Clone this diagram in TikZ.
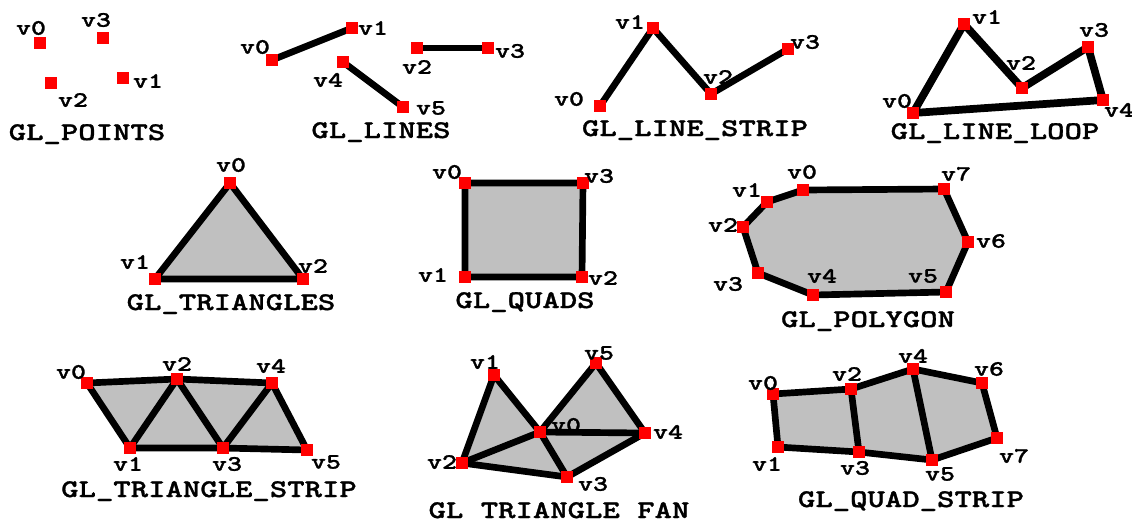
\documentclass[tikz,border=0pt]{standalone}
\usepackage{fontspec}
\newfontfamily\pixfont[FakeStretch=1.3,FakeBold=1.2]{lmmonolt10-bold.otf}
\usetikzlibrary{positioning}
\definecolor{vxred}{HTML}{FF0000}
\definecolor{facegray}{HTML}{C0C0C0}
\tikzset{
  vtx/.style={rectangle,fill=vxred,inner sep=0pt,minimum size=6.3pt},
  vlbl/.style={font=\pixfont\fontsize{12.5}{14}\selectfont,inner sep=0pt},
  captxt/.style={font=\pixfont\fontsize{14.5}{16}\selectfont,inner sep=0pt,anchor=base},
  wire/.style={line width=3.8pt,line join=round},
  face/.style={wire,fill=facegray,draw=black}
}

\begin{document}
\begin{tikzpicture}[x=0.02cm,y=-0.02cm]
  \useasboundingbox[fill=white] (0,0) rectangle (1132,522);

  % GL_POINTS
  \coordinate (pt0) at (40,43);   \coordinate (pt1) at (123,78);
  \coordinate (pt2) at (51,83);   \coordinate (pt3) at (103,38);

  % GL_LINES
  \coordinate (ln0) at (272,60);  \coordinate (ln1) at (352,28);
  \coordinate (ln2) at (417,48);  \coordinate (ln3) at (488,48);
  \coordinate (ln4) at (343,62);  \coordinate (ln5) at (403,107);
  \foreach \a/\b in {0/1,2/3,4/5} \draw[wire] (ln\a) -- (ln\b);

  % GL_LINE_STRIP
  \coordinate (ls0) at (600,106); \coordinate (ls1) at (653,28);
  \coordinate (ls2) at (711,94);  \coordinate (ls3) at (788,49);
  \draw[wire] (ls0) -- (ls1) -- (ls2) -- (ls3);

  % GL_LINE_LOOP
  \coordinate (ll0) at (913,113); \coordinate (ll1) at (964,24);
  \coordinate (ll2) at (1022,88); \coordinate (ll3) at (1088,47);
  \coordinate (ll4) at (1103,100);
  \draw[wire,line width=4.4pt] (ll0) -- (ll1) -- (ll2) -- (ll3) -- (ll4) -- cycle;

  % GL_TRIANGLES
  \coordinate (tr0) at (230,183); \coordinate (tr1) at (155,279);
  \coordinate (tr2) at (303,279);
  \draw[face] (tr0) -- (tr1) -- (tr2) -- cycle;

  % GL_QUADS
  \coordinate (qd0) at (465,183); \coordinate (qd1) at (465,277);
  \coordinate (qd2) at (582,277); \coordinate (qd3) at (583,183);
  \draw[face] (qd0) -- (qd1) -- (qd2) -- (qd3) -- cycle;

  % GL_POLYGON
  \coordinate (pg0) at (803,190); \coordinate (pg1) at (767,202);
  \coordinate (pg2) at (743,227); \coordinate (pg3) at (758,273);
  \coordinate (pg4) at (813,295); \coordinate (pg5) at (946,292);
  \coordinate (pg6) at (968,242); \coordinate (pg7) at (944,189);
  \draw[face] (pg0) -- (pg1) -- (pg2) -- (pg3) -- (pg4) -- (pg5) -- (pg6) -- (pg7) -- cycle;

  % GL_TRIANGLE_STRIP
  \coordinate (ts0) at (87,383);  \coordinate (ts1) at (130,448);
  \coordinate (ts2) at (177,379); \coordinate (ts3) at (223,448);
  \coordinate (ts4) at (272,383); \coordinate (ts5) at (307,450);
  \fill[facegray] (ts0) -- (ts2) -- (ts4) -- (ts5) -- (ts3) -- (ts1) -- cycle;
  \draw[wire] (ts0) -- (ts1) -- (ts2) -- (ts3) -- (ts4) -- (ts5);
  \draw[wire] (ts0) -- (ts2) -- (ts4);
  \draw[wire] (ts1) -- (ts3) -- (ts5);

  % GL_TRIANGLE_FAN
  \coordinate (tf0) at (540,432); \coordinate (tf1) at (494,375);
  \coordinate (tf2) at (462,463); \coordinate (tf3) at (567,477);
  \coordinate (tf4) at (645,433); \coordinate (tf5) at (596,363);
  \fill[facegray] (tf0) -- (tf1) -- (tf2) -- (tf3) -- (tf4) -- (tf5) -- cycle;
  \draw[wire] (tf1) -- (tf2) -- (tf3) -- (tf4) -- (tf5);
  \foreach \k in {1,...,5} \draw[wire] (tf0) -- (tf\k);

  % GL_QUAD_STRIP
  \coordinate (qs0) at (773,394); \coordinate (qs1) at (778,447);
  \coordinate (qs2) at (851,389); \coordinate (qs3) at (859,452);
  \coordinate (qs4) at (913,369); \coordinate (qs5) at (932,460);
  \coordinate (qs6) at (982,383); \coordinate (qs7) at (997,438);
  \draw[face] (qs0) -- (qs2) -- (qs4) -- (qs6) -- (qs7) -- (qs5) -- (qs3) -- (qs1) -- cycle;
  \foreach \a/\b in {2/3,4/5} \draw[wire] (qs\a) -- (qs\b);

  % red vertex squares on top
  \foreach \p in {pt0,pt1,pt2,pt3,ln0,ln1,ln2,ln3,ln4,ln5,ls0,ls1,ls2,ls3,
      ll0,ll1,ll2,ll3,ll4,tr0,tr1,tr2,qd0,qd1,qd2,qd3,
      pg0,pg1,pg2,pg3,pg4,pg5,pg6,pg7,ts0,ts1,ts2,ts3,ts4,ts5,
      tf0,tf1,tf2,tf3,tf4,tf5,qs0,qs1,qs2,qs3,qs4,qs5,qs6,qs7}
    \node[vtx] (sq-\p) at (\p) {};

  % vertex labels
  \foreach \k/\x/\y in {0/31/28,1/148/81,2/73/100,3/96/20}
    \node[vlbl] (lpt\k) at (\x,\y) {v\k};
  \foreach \k/\x/\y in {0/255/47,1/373/28,2/417/67,3/510/51,4/328/80,5/431/108}
    \node[vlbl] (lln\k) at (\x,\y) {v\k};
  \foreach \k/\x/\y in {0/569/99,1/630/22,2/718/77,3/805/42}
    \node[vlbl] (lls\k) at (\x,\y) {v\k};
  \foreach \k/\x/\y in {0/897/101,1/987/17,2/1021/63,3/1094/30,4/1119/110}
    \node[vlbl] (lll\k) at (\x,\y) {v\k};
  \foreach \k/\x/\y in {0/231/165,1/135/262,2/313/266}
    \node[vlbl] (ltr\k) at (\x,\y) {v\k};
  \foreach \k/\x/\y in {0/447/172,1/433/275,2/603/278,3/599/176}
    \node[vlbl] (lqd\k) at (\x,\y) {v\k};
  \foreach \k/\x/\y in {0/802/172,1/747/190,2/723/225,3/728/284,4/822/276,5/923/276,6/991/241,7/956/174}
    \node[vlbl] (lpg\k) at (\x,\y) {v\k};
  \foreach \k/\x/\y in {0/71/372,1/128/464,2/177/364,3/227/464,4/271/366,5/326/462}
    \node[vlbl] (lts\k) at (\x,\y) {v\k};
  \foreach \k/\x/\y in {0/566/425,1/485/362,2/442/462,3/593/484,4/668/432,5/599/353}
    \node[vlbl] (ltf\k) at (\x,\y) {v\k};
  \foreach \k/\x/\y in {0/763/383,1/767/464,2/847/374,3/855/468,4/913/356,5/940/474,6/989/369,7/1014/456}
    \node[vlbl] (lqs\k) at (\x,\y) {v\k};

  % captions
  \node[captxt] (cap-pt) at (87,140)  {GL\_POINTS};
  \node[captxt] (cap-ln) at (381,138) {GL\_LINES};
  \node[captxt] (cap-ls) at (695,136) {GL\_LINE\_STRIP};
  \node[captxt] (cap-ll) at (995,139) {GL\_LINE\_LOOP};
  \node[captxt] (cap-tr) at (231,310) {GL\_TRIANGLES};
  \node[captxt] (cap-qd) at (525,308) {GL\_QUADS};
  \node[captxt] (cap-pg) at (868,327) {GL\_POLYGON};
  \node[captxt] (cap-ts) at (209,497) {GL\_TRIANGLE\_STRIP};
  \node[captxt] (cap-tf) at (559,518) {GL TRIANGLE FAN};
  \node[captxt] (cap-qs) at (911,507) {GL\_QUAD\_STRIP};
\end{tikzpicture}
\end{document}
